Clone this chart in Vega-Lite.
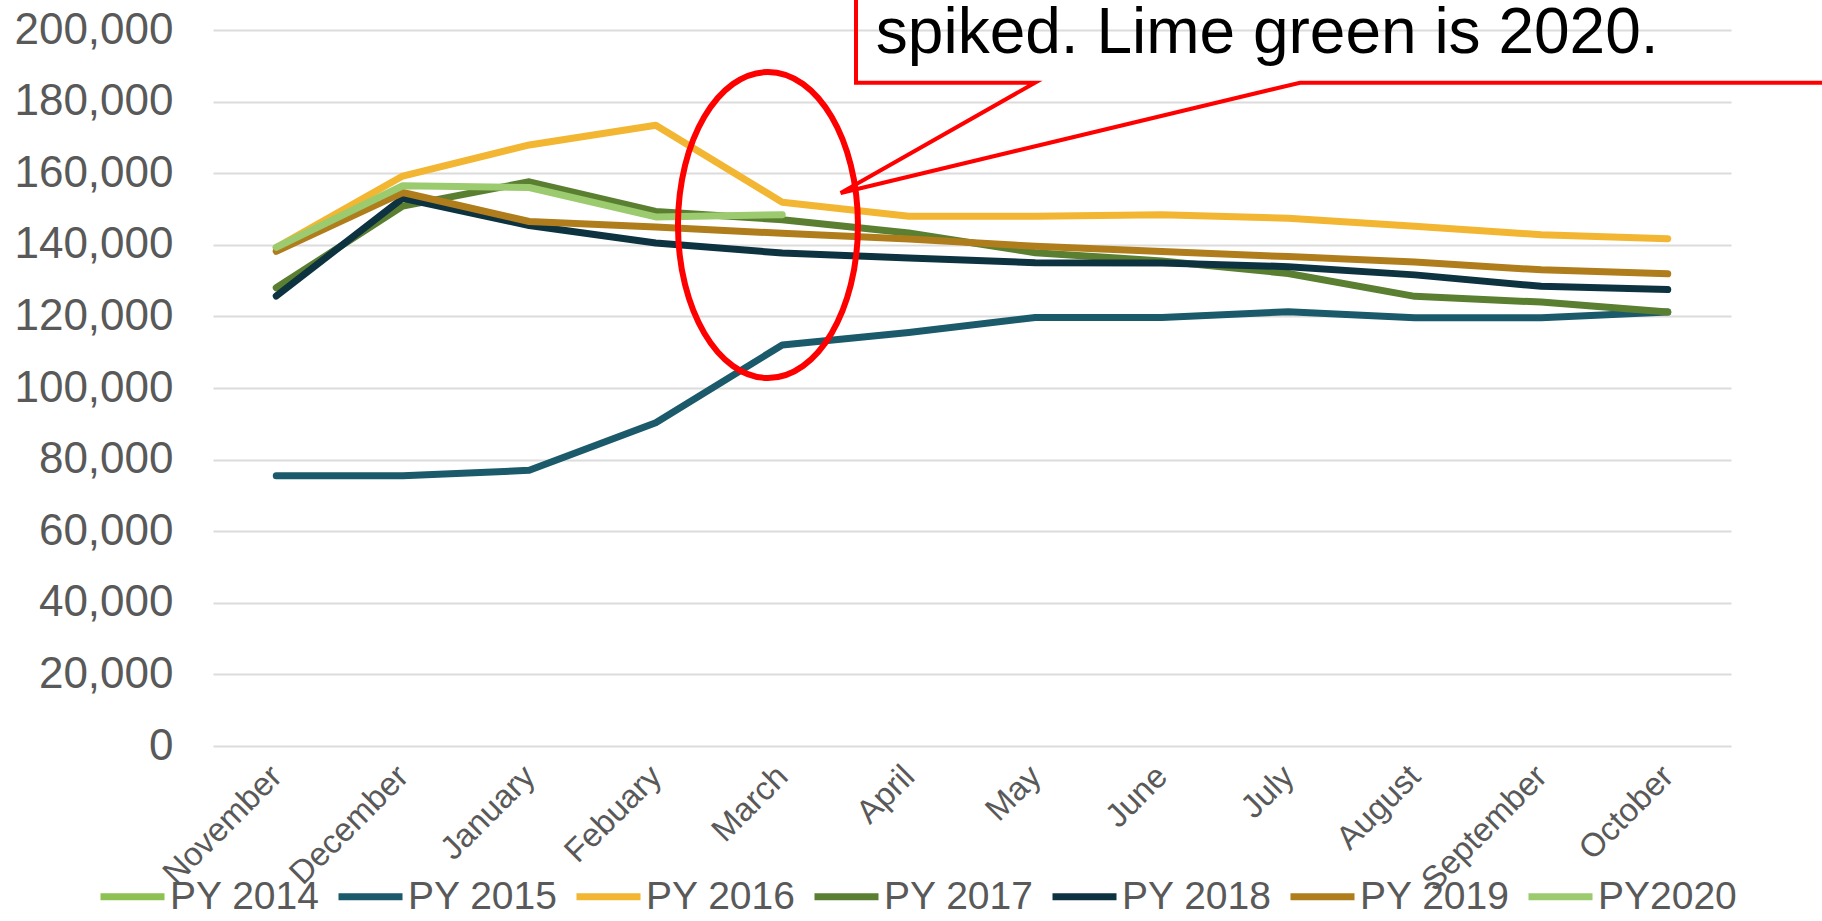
{
  "$schema": "https://vega.github.io/schema/vega-lite/v6.json",
  "width": 1518,
  "height": 716,
  "autosize": {"type": "none"},
  "padding": {"left": 213, "top": 30, "right": 91, "bottom": 175},
  "background": "white",
  "config": {
    "view": {"stroke": null},
    "font": "Liberation Sans",
    "numberFormat": ",",
    "axisY": {
      "title": null,
      "domain": false,
      "ticks": false,
      "tickSize": 0,
      "grid": true,
      "gridColor": "#dcdcdc",
      "gridWidth": 2,
      "labelFontSize": 44,
      "labelColor": "#595959",
      "labelPadding": 40,
      "tickCount": 10,
      "labelExpr": "format(datum.value, ',')"
    }
  },
  "datasets": {
    "series": [
      {"series": "PY 2015", "month": "November", "value": 75500},
      {"series": "PY 2015", "month": "December", "value": 75500},
      {"series": "PY 2015", "month": "January", "value": 77000},
      {"series": "PY 2015", "month": "Febuary", "value": 90300},
      {"series": "PY 2015", "month": "March", "value": 112000},
      {"series": "PY 2015", "month": "April", "value": 115500},
      {"series": "PY 2015", "month": "May", "value": 119700},
      {"series": "PY 2015", "month": "June", "value": 119700},
      {"series": "PY 2015", "month": "July", "value": 121300},
      {"series": "PY 2015", "month": "August", "value": 119600},
      {"series": "PY 2015", "month": "September", "value": 119600},
      {"series": "PY 2015", "month": "October", "value": 121200},
      {"series": "PY 2016", "month": "November", "value": 139200},
      {"series": "PY 2016", "month": "December", "value": 159200},
      {"series": "PY 2016", "month": "January", "value": 167900},
      {"series": "PY 2016", "month": "Febuary", "value": 173400},
      {"series": "PY 2016", "month": "March", "value": 151900},
      {"series": "PY 2016", "month": "April", "value": 148000},
      {"series": "PY 2016", "month": "May", "value": 148000},
      {"series": "PY 2016", "month": "June", "value": 148400},
      {"series": "PY 2016", "month": "July", "value": 147400},
      {"series": "PY 2016", "month": "August", "value": 145200},
      {"series": "PY 2016", "month": "September", "value": 142800},
      {"series": "PY 2016", "month": "October", "value": 141700},
      {"series": "PY 2017", "month": "November", "value": 128000},
      {"series": "PY 2017", "month": "December", "value": 150800},
      {"series": "PY 2017", "month": "January", "value": 157600},
      {"series": "PY 2017", "month": "Febuary", "value": 149300},
      {"series": "PY 2017", "month": "March", "value": 147000},
      {"series": "PY 2017", "month": "April", "value": 143300},
      {"series": "PY 2017", "month": "May", "value": 137800},
      {"series": "PY 2017", "month": "June", "value": 135500},
      {"series": "PY 2017", "month": "July", "value": 132000},
      {"series": "PY 2017", "month": "August", "value": 125600},
      {"series": "PY 2017", "month": "September", "value": 124000},
      {"series": "PY 2017", "month": "October", "value": 121200},
      {"series": "PY 2018", "month": "November", "value": 125700},
      {"series": "PY 2018", "month": "December", "value": 153000},
      {"series": "PY 2018", "month": "January", "value": 145400},
      {"series": "PY 2018", "month": "Febuary", "value": 140500},
      {"series": "PY 2018", "month": "March", "value": 137700},
      {"series": "PY 2018", "month": "April", "value": 136300},
      {"series": "PY 2018", "month": "May", "value": 135000},
      {"series": "PY 2018", "month": "June", "value": 134900},
      {"series": "PY 2018", "month": "July", "value": 133900},
      {"series": "PY 2018", "month": "August", "value": 131600},
      {"series": "PY 2018", "month": "September", "value": 128400},
      {"series": "PY 2018", "month": "October", "value": 127500},
      {"series": "PY 2019", "month": "November", "value": 138200},
      {"series": "PY 2019", "month": "December", "value": 154600},
      {"series": "PY 2019", "month": "January", "value": 146500},
      {"series": "PY 2019", "month": "Febuary", "value": 145000},
      {"series": "PY 2019", "month": "March", "value": 143200},
      {"series": "PY 2019", "month": "April", "value": 141600},
      {"series": "PY 2019", "month": "May", "value": 139600},
      {"series": "PY 2019", "month": "June", "value": 138100},
      {"series": "PY 2019", "month": "July", "value": 136700},
      {"series": "PY 2019", "month": "August", "value": 135200},
      {"series": "PY 2019", "month": "September", "value": 133000},
      {"series": "PY 2019", "month": "October", "value": 131900},
      {"series": "PY2020", "month": "November", "value": 139300},
      {"series": "PY2020", "month": "December", "value": 156500},
      {"series": "PY2020", "month": "January", "value": 156000},
      {"series": "PY2020", "month": "Febuary", "value": 147800},
      {"series": "PY2020", "month": "March", "value": 148400}
    ],
    "callout": [
      {"idx": 4.583, "val": 216760, "o": 1},
      {"idx": 4.583, "val": 185280, "o": 2},
      {"idx": 5.998, "val": 185280, "o": 3},
      {"idx": 4.462, "val": 154470, "o": 4},
      {"idx": 8.093, "val": 185280, "o": 5},
      {"idx": 12.836, "val": 185280, "o": 6}
    ],
    "note": [
      {"idx": 4.74, "val": 193700, "label": "spiked. Lime green is 2020."}
    ],
    "ring": [
      {"idx": 3.887, "val": 145530}
    ]
  },
  "resolve": {"scale": {"x": "independent"}},
  "layer": [
    {
      "data": {"name": "series"},
      "mark": {"type": "line", "strokeWidth": 7, "strokeJoin": "round", "strokeCap": "round"},
      "encoding": {
        "x": {
          "field": "month",
          "type": "ordinal",
          "sort": ["November", "December", "January", "Febuary", "March", "April", "May", "June", "July", "August", "September", "October"],
          "scale": {"type": "point", "padding": 0.5},
          "axis": {
            "title": null,
            "domain": false,
            "ticks": false,
            "tickSize": 0,
            "grid": false,
            "labelAngle": -45,
            "labelAlign": "right",
            "labelBaseline": "middle",
            "labelFontSize": 33,
            "labelColor": "#595959",
            "labelPadding": 25
          }
        },
        "y": {
          "field": "value",
          "type": "quantitative",
          "title": null,
          "scale": {"domain": [0, 200000], "nice": false},
          "axis": {"format": ",", "labelExpr": "format(datum.value, ',')"}
        },
        "color": {
          "field": "series",
          "type": "nominal",
          "scale": {
            "domain": ["PY 2014", "PY 2015", "PY 2016", "PY 2017", "PY 2018", "PY 2019", "PY2020"],
            "range": ["#8dc153", "#1b5a6a", "#f2b632", "#5a7f31", "#0e3340", "#b07d1c", "#9bcb6e"]
          },
          "legend": {
            "orient": "none",
            "legendX": -116,
            "legendY": 831,
            "direction": "horizontal",
            "columns": 7,
            "title": null,
            "symbolType": "stroke",
            "symbolSize": 4096,
            "symbolStrokeWidth": 7,
            "labelFontSize": 39,
            "labelColor": "#595959",
            "labelOffset": 2,
            "columnPadding": 4,
            "labelLimit": 400
          }
        }
      }
    },
    {
      "data": {"name": "callout"},
      "mark": {"type": "line", "color": "#ff0000", "strokeWidth": 4, "strokeJoin": "miter"},
      "encoding": {
        "x": {"field": "idx", "type": "quantitative", "scale": {"domain": [-0.5, 11.5], "nice": false, "zero": false}, "axis": null},
        "y": {"field": "val", "type": "quantitative", "title": null, "scale": {"domain": [0, 200000], "nice": false}},
        "order": {"field": "o"}
      }
    },
    {
      "data": {"name": "note"},
      "mark": {"type": "text", "align": "left", "baseline": "alphabetic", "fontSize": 64, "color": "#000000"},
      "encoding": {
        "x": {"field": "idx", "type": "quantitative", "scale": {"domain": [-0.5, 11.5], "nice": false, "zero": false}, "axis": null},
        "y": {"field": "val", "type": "quantitative", "title": null, "scale": {"domain": [0, 200000], "nice": false}},
        "text": {"field": "label"}
      }
    },
    {
      "data": {"name": "ring"},
      "mark": {
        "type": "point",
        "shape": "M -1 0 C -1 -0.939 -0.552 -1.7 0 -1.7 C 0.552 -1.7 1 -0.939 1 0 C 1 0.939 0.552 1.7 0 1.7 C -0.552 1.7 -1 0.939 -1 0 Z",
        "size": 32400,
        "filled": false,
        "color": "#ff0000",
        "strokeWidth": 6,
        "opacity": 1
      },
      "encoding": {
        "x": {"field": "idx", "type": "quantitative", "scale": {"domain": [-0.5, 11.5], "nice": false, "zero": false}, "axis": null},
        "y": {"field": "val", "type": "quantitative", "title": null, "scale": {"domain": [0, 200000], "nice": false}}
      }
    }
  ]
}
